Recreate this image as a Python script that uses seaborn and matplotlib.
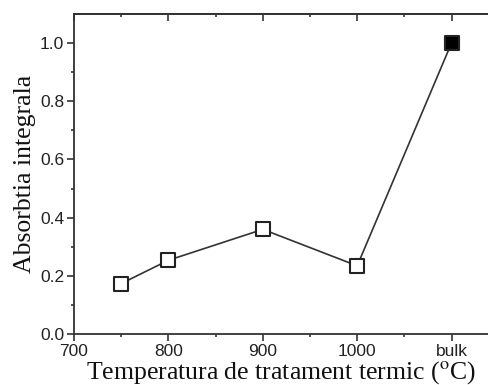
import matplotlib
matplotlib.use("Agg")
import matplotlib.pyplot as plt
import seaborn as sns
import pandas as pd
from matplotlib.ticker import FixedLocator

sns.set_theme(style="white")
plt.rcParams['font.family'] = ['Liberation Sans', 'DejaVu Sans']
plt.rcParams['mathtext.fontset'] = 'stix'

positions = [750, 800, 900, 1000, 1100]
values = [0.174, 0.254, 0.36, 0.235, 1.0]
filled = [False, False, False, False, True]
tick_pos = [700, 800, 900, 1000, 1100]
tick_labels = ['700', '800', '900', '1000', 'bulk']
minor_x = [750, 850, 950, 1050]
ytick_pos = [0.0, 0.2, 0.4, 0.6, 0.8, 1.0]
ytick_labels = ['0.0', '0.2', '0.4', '0.6', '0.8', '1.0']
minor_y = [0.1, 0.3, 0.5, 0.7, 0.9]

df = pd.DataFrame({'x': positions, 'y': values, 'filled': filled})

fig = plt.figure(figsize=(4.88, 3.85), dpi=100)
ax = fig.add_axes([74/488, (385-334.3)/385, 1 - 74/488, (334.3-13.7)/385])

sns.lineplot(data=df, x='x', y='y', color='#333333', linewidth=1.2, ax=ax, zorder=1)
sns.scatterplot(data=df[~df['filled']], x='x', y='y', marker='s', s=105,
                facecolor='white', edgecolor='#222222', linewidth=1.5, ax=ax, zorder=3)
sns.scatterplot(data=df[df['filled']], x='x', y='y', marker='s', s=105,
                facecolor='black', edgecolor='#222222', linewidth=1.5, ax=ax, zorder=3)

ax.set_xlim(700, 700 + (488-74)/94.4*100)
ax.set_ylim(0, 1.1)
ax.xaxis.set_major_locator(FixedLocator(tick_pos))
ax.set_xticklabels(tick_labels)
ax.xaxis.set_minor_locator(FixedLocator(minor_x))
ax.yaxis.set_major_locator(FixedLocator(ytick_pos))
ax.set_yticklabels(ytick_labels)
ax.yaxis.set_minor_locator(FixedLocator(minor_y))

for s in ['left', 'bottom', 'top']:
    ax.spines[s].set_color('#333333')
    ax.spines[s].set_linewidth(1.3)
ax.spines['right'].set_visible(False)

ax.tick_params(axis='both', which='major', direction='out', length=5, width=1.2,
               color='#333333', labelsize=12.5, labelcolor='#222222', pad=2,
               bottom=True, left=True, top=False)
ax.tick_params(axis='both', which='minor', direction='out', length=2.5, width=1.2,
               color='#333333', bottom=True, left=True, top=False)

sec = ax.secondary_xaxis('top')
sec.xaxis.set_major_locator(FixedLocator(tick_pos))
sec.xaxis.set_minor_locator(FixedLocator(minor_x))
sec.tick_params(axis='x', which='major', direction='in', length=5, width=1.2,
                color='#333333', labeltop=False)
sec.tick_params(axis='x', which='minor', direction='in', length=2.5, width=1.2,
                color='#333333')
sec.spines['top'].set_color('#333333')
sec.spines['top'].set_linewidth(1.3)

ax.set_xlabel(r'Temperatura de tratament termic ($^{\rm o}$C)', family='Liberation Serif',
              fontsize=18.5, color='#111111', labelpad=0)
ax.set_ylabel('Absorbtia integrala', family='Liberation Serif', fontsize=18.5,
              color='#111111', labelpad=3)

fig.savefig('out.png', dpi=100)
